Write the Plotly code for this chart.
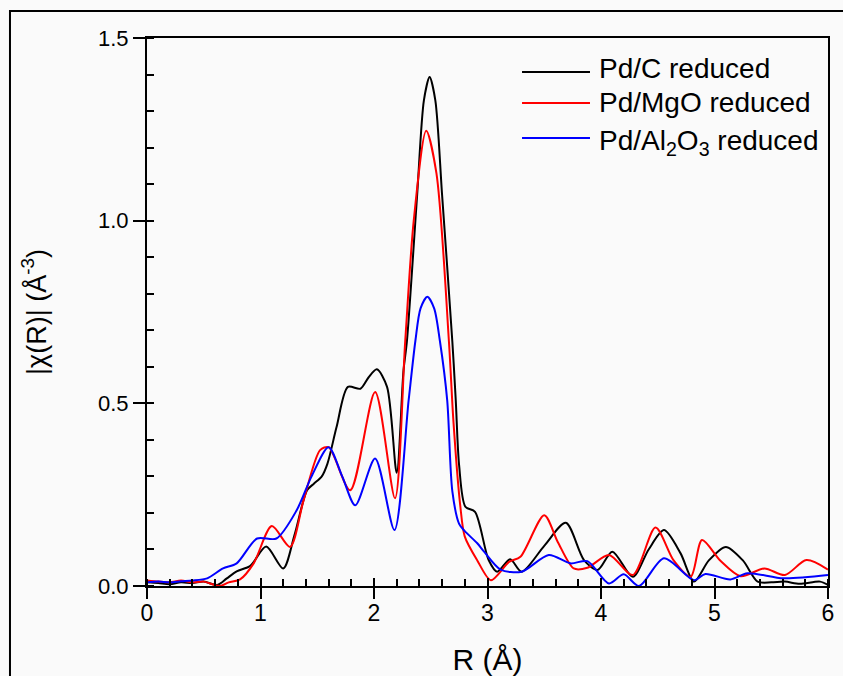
import plotly.graph_objects as go

# ---- data ----
r_pdc = [0.0, 0.1, 0.2, 0.3, 0.4, 0.5, 0.62, 0.7, 0.79, 0.91, 1.05, 1.2, 1.3, 1.41, 1.47, 1.54,
         1.59, 1.67, 1.77, 1.88, 1.95, 2.025, 2.115, 2.2, 2.26, 2.29, 2.38, 2.44, 2.49, 2.54,
         2.6, 2.69, 2.72, 2.75, 2.805, 2.89, 3.01, 3.085, 3.2, 3.3, 3.5, 3.69, 3.85, 3.97,
         4.1, 4.28, 4.42, 4.555, 4.7, 4.82, 4.95, 5.1, 5.25, 5.38, 5.5, 5.62, 5.75, 5.93, 6.0]
chi_pdc = [0.01, 0.008, 0.005, 0.01, 0.008, 0.012, 0.003, 0.02, 0.04, 0.055, 0.108, 0.048, 0.14,
           0.262, 0.28, 0.30, 0.335, 0.435, 0.545, 0.54, 0.57, 0.593, 0.545, 0.31, 0.59, 0.67,
           1.07, 1.33, 1.393, 1.33, 1.07, 0.67, 0.51, 0.33, 0.217, 0.203, 0.071, 0.039, 0.073,
           0.039, 0.11, 0.173, 0.071, 0.044, 0.094, 0.025, 0.10, 0.153, 0.09, 0.012, 0.07,
           0.107, 0.07, 0.012, 0.01, 0.012, 0.006, 0.012, 0.003]

r_pdmgo = [0.0, 0.1, 0.2, 0.3, 0.4, 0.5, 0.64, 0.72, 0.82, 0.94, 1.1, 1.26, 1.38, 1.525, 1.6,
           1.79, 2.01, 2.185, 2.275, 2.35, 2.46, 2.55, 2.66, 2.7, 2.76, 2.8, 2.91, 3.03, 3.19,
           3.29, 3.5, 3.62, 3.76, 3.88, 4.07, 4.28, 4.48, 4.64, 4.79, 4.89, 5.05, 5.23, 5.44,
           5.62, 5.81, 6.0]
chi_pdmgo = [0.015, 0.012, 0.01, 0.015, 0.01, 0.012, 0.0, 0.01, 0.018, 0.062, 0.164, 0.107,
             0.235, 0.372, 0.38, 0.262, 0.531, 0.24, 0.67, 1.0, 1.246, 1.13, 0.67, 0.45, 0.22,
             0.135, 0.07, 0.016, 0.066, 0.08, 0.194, 0.12, 0.048, 0.05, 0.085, 0.03, 0.16,
             0.07, 0.025, 0.126, 0.07, 0.027, 0.048, 0.03, 0.071, 0.045]

r_pdal2o3 = [0.0, 0.1, 0.2, 0.3, 0.4, 0.53, 0.67, 0.79, 0.97, 1.14, 1.32, 1.45, 1.6, 1.72,
             1.835, 2.01, 2.18, 2.305, 2.365, 2.41, 2.47, 2.53, 2.58, 2.645, 2.69, 2.75, 2.8,
             2.91, 2.97, 3.115, 3.3, 3.54, 3.73, 3.88, 4.07, 4.2, 4.335, 4.555, 4.82, 4.92,
             5.14, 5.29, 5.61, 6.0]
chi_pdal2o3 = [0.01, 0.012, 0.01, 0.013, 0.015, 0.021, 0.048, 0.062, 0.13, 0.13, 0.208, 0.30,
               0.38, 0.30, 0.221, 0.349, 0.153, 0.508, 0.672, 0.76, 0.792, 0.76, 0.672, 0.508,
               0.26, 0.17, 0.15, 0.117, 0.094, 0.045, 0.039, 0.085, 0.062, 0.068, 0.007, 0.032,
               0.0, 0.076, 0.016, 0.033, 0.018, 0.035, 0.021, 0.03]

series_names = ["Pd/C reduced", "Pd/MgO reduced", "Pd/Al<sub>2</sub>O<sub>3</sub> reduced"]
series_colors = ["#000000", "#ff0000", "#0000ff"]

x_tick_vals = [0, 1, 2, 3, 4, 5, 6]
y_tick_vals = [0.0, 0.5, 1.0, 1.5]

FONT = "Liberation Sans, Arial, sans-serif"
BG = "#fafafa"

fig = go.Figure()
series = [(r_pdc, chi_pdc), (r_pdmgo, chi_pdmgo), (r_pdal2o3, chi_pdal2o3)]
for (rx, ry), name, col in zip(series, series_names, series_colors):
    fig.add_trace(go.Scatter(x=rx, y=ry, mode="lines", name=name,
                             line=dict(color=col, width=2, shape="spline", smoothing=0.8),
                             showlegend=False))

# invisible traces carrying the overlay axes (major x ticks cross the axis line)
for ax in ("x2", "x3"):
    fig.add_trace(go.Scatter(x=[x_tick_vals[0], x_tick_vals[-1]],
                             y=[y_tick_vals[0], y_tick_vals[-1]],
                             xaxis=ax, yaxis="y", mode="markers",
                             marker=dict(opacity=0), hoverinfo="skip", showlegend=False))

xr = [x_tick_vals[0], x_tick_vals[-1]]
yr = [y_tick_vals[0], y_tick_vals[-1]]
xd = x_tick_vals[1] - x_tick_vals[0]
yd = y_tick_vals[1] - y_tick_vals[0]

overlay = dict(range=xr, overlaying="x", side="bottom", tickmode="linear", tick0=xr[0],
               dtick=xd, tickwidth=2, tickcolor="#000", showline=False, showgrid=False,
               zeroline=False, showticklabels=False, automargin=False)

fig.update_layout(
    width=843, height=676,
    margin=dict(l=147, r=15, t=38, b=90, autoexpand=False),
    paper_bgcolor=BG, plot_bgcolor=BG,
    font=dict(family=FONT, color="#000000"),
    showlegend=False,
    xaxis=dict(range=xr, tickmode="linear", tick0=xr[0], dtick=xd, ticks="outside", ticklen=5,
               tickwidth=2, tickcolor="#000", showline=True, linewidth=2, linecolor="#000",
               mirror=True, showgrid=False, zeroline=False, tickfont=dict(size=23),
               automargin=False,
               minor=dict(dtick=xd / 5, ticks="inside", ticklen=7, tickwidth=2, tickcolor="#000",
                          showgrid=False),
               title=dict(text="R (Å)", font=dict(size=30), standoff=36)),
    xaxis2=dict(overlay, ticks="inside", ticklen=8),
    xaxis3=dict(overlay, ticks="outside", ticklen=12),
    yaxis=dict(range=yr, tickmode="linear", tick0=yr[0], dtick=yd, tickformat=".1f",
               ticks="outside", ticklen=12, tickwidth=2, tickcolor="#000", showline=True,
               linewidth=2, linecolor="#000", mirror=True, showgrid=False, zeroline=False,
               tickfont=dict(size=22), automargin=False,
               minor=dict(dtick=yd / 5, ticks="inside", ticklen=7, tickwidth=2, tickcolor="#000",
                          showgrid=False),
               title=dict(text="|χ(R)| (Å<sup>-3</sup>)", font=dict(size=27), standoff=44)),
)

# outer frame of the figure
fig.add_shape(type="rect", xref="paper", yref="paper", x0=-0.2012, x1=1.05, y0=-0.25, y1=1.0493,
              line=dict(color="#000", width=2), fillcolor="rgba(0,0,0,0)", layer="below")

# legend drawn as line samples plus text
line_rows = [0.9380, 0.8814, 0.8175]
text_rows = [0.9435, 0.8814, 0.8100]
for ly, ty, name, col in zip(line_rows, text_rows, series_names, series_colors):
    fig.add_shape(type="line", xref="paper", yref="paper", x0=0.5507, x1=0.6505, y0=ly, y1=ly,
                  line=dict(color=col, width=2))
    fig.add_annotation(xref="paper", yref="paper", x=0.6608, y=ty, xanchor="left",
                       yanchor="middle", text=name, showarrow=False,
                       font=dict(size=28, color="#000"))

fig.write_html("out.html", config={"displayModeBar": False},
               post_script="document.body.style.margin='0';")
